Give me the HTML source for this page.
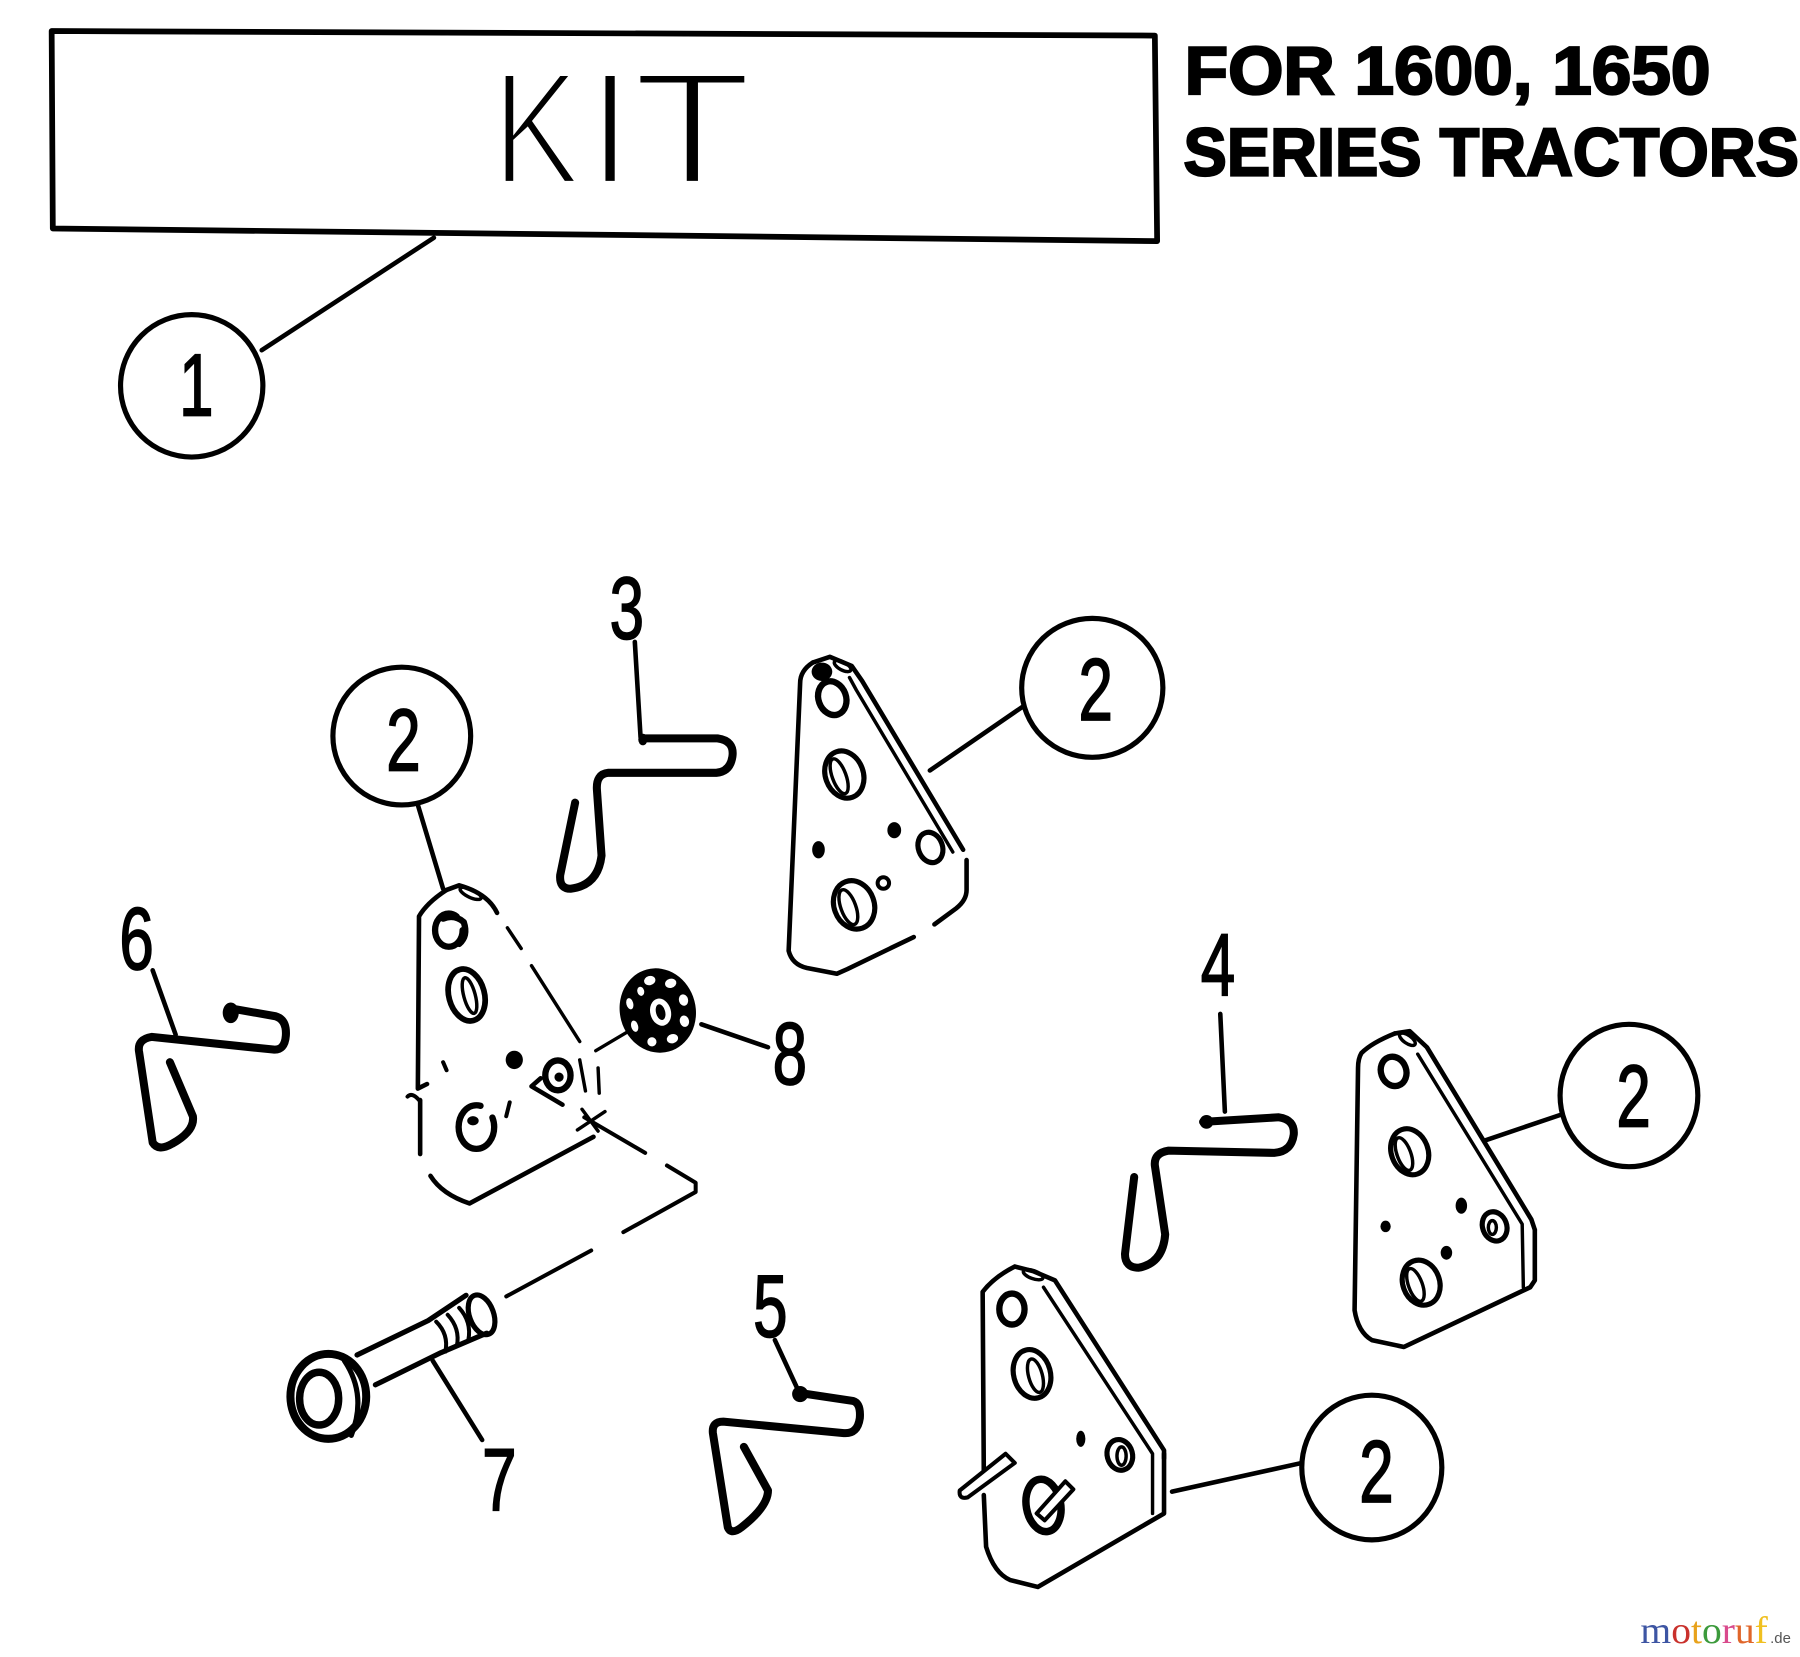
<!DOCTYPE html>
<html><head><meta charset="utf-8"><style>
html,body{margin:0;padding:0;background:#fff;}
svg{display:block;}
</style></head><body>
<svg width="1800" height="1657" viewBox="0 0 1568 1443" preserveAspectRatio="none" xmlns="http://www.w3.org/2000/svg">
<rect width="1568" height="1443" fill="#fff"/>

<g fill="none" stroke="#000" stroke-linecap="round" stroke-linejoin="round">
<path d="M45 27 L1006 31 L1008 210 L46 199 Z" stroke-width="5"/>

<ellipse cx="167" cy="336" rx="62" ry="62" stroke-width="4.5"/>
<path d="M228 305 L378 207" stroke-width="4"/>

<g stroke-width="4.5">
<ellipse cx="350" cy="641" rx="60" ry="60"/>
<ellipse cx="951.5" cy="599" rx="61.5" ry="60.5"/>
<ellipse cx="1419" cy="954" rx="60" ry="62"/>
<ellipse cx="1195" cy="1278" rx="61" ry="63"/>
</g>
<g stroke-width="4">
<path d="M364 701 L386 774"/>
<path d="M810 671 L890 616"/>
<path d="M1294 993 L1359 971"/>
<path d="M1021 1299 L1134 1274"/>
<path d="M553 559 L558 642"/>
<path d="M1063 883 L1067 968"/>
<path d="M675 1167 L694 1208"/>
<path d="M133 845 L153 901"/>
<path d="M377 1185 L420 1254"/>
<path d="M611 892 L669 912"/>
</g>

<g stroke-width="7">
<path d="M560 643 L625 643 Q640 645 638 659 Q636 672 624 673 L530 673 Q519 674 520 688 L524 745 Q521 771 497 774 Q487 774 488 762 L501 699"/>
<path d="M1048 977 L1114 973 Q1128 975 1127 988 Q1125 1003 1110 1004 L1018 1002 Q1005 1004 1006 1015 L1015 1075 Q1013 1100 992 1104 Q980 1104 980 1092 L988 1025"/>
<path d="M696 1213 L743 1220 Q750 1222 749 1235 Q747 1249 735 1248 L630 1238 Q620 1238 621 1248 L634 1330 Q637 1337 646 1330 Q669 1312 669 1298 L648 1260"/>
<path d="M200 878 L240 885 Q250 888 249 902 Q248 915 238 914 L132 903 Q120 905 121 915 L133 995 Q138 1003 150 996 Q170 985 168 972 L148 925"/>
</g>
</g>
<g fill="#000">
<ellipse cx="697" cy="1214" rx="7" ry="7"/>
<ellipse cx="201" cy="882" rx="7" ry="9"/>
<ellipse cx="1051" cy="977" rx="6" ry="6"/>
<ellipse cx="560" cy="644" rx="4" ry="5"/>
</g>

<!-- top-right plate -->
<g fill="none" stroke="#000" stroke-linecap="round" stroke-linejoin="round" stroke-width="4">
<path d="M708 577 Q697 584 697 595 L687 828 Q690 840 703 843 L729 848 L738 844 L796 816"/>
<path d="M814 805 L833 791 Q842 784 842 775 L842 749"/>
<path d="M708 577 L723 572 L742 580 L751 593 L839 740"/>
<path d="M740 590 L746 601 L830 742" stroke-width="3"/>
<ellipse cx="734" cy="580" rx="8" ry="3.5" transform="rotate(28 734 580)" stroke-width="3"/>
<ellipse cx="725" cy="608" rx="12" ry="15" stroke-width="5.5" transform="rotate(-20 725 608)"/>
<ellipse cx="735.5" cy="674.5" rx="16.5" ry="21" stroke-width="4.5" transform="rotate(-20 735.5 674.5)"/>
<ellipse cx="731" cy="676" rx="6" ry="16" stroke-width="3" transform="rotate(-20 731 676)"/>
<ellipse cx="810.5" cy="738" rx="10.5" ry="13.5" stroke-width="4.5" transform="rotate(-20 810.5 738)"/>
<ellipse cx="769.5" cy="769" rx="5" ry="5" stroke-width="3.5"/>
<ellipse cx="744" cy="788" rx="17.5" ry="21.5" stroke-width="4.5" transform="rotate(-20 744 788)"/>
<ellipse cx="739" cy="790" rx="6.5" ry="16" stroke-width="3" transform="rotate(-20 739 790)"/>
</g>
<g fill="#000">
<ellipse cx="716" cy="585" rx="9" ry="8"/>
<ellipse cx="779" cy="723" rx="6" ry="7"/>
<ellipse cx="713" cy="740" rx="5.5" ry="7.5"/>
</g>

<!-- right plate -->
<g fill="none" stroke="#000" stroke-linecap="round" stroke-linejoin="round" stroke-width="4">
<path d="M1215 900 Q1195 908 1186 917 Q1183 922 1183 930 L1180 1141 Q1183 1160 1195 1167 L1223 1173 L1333 1121 L1337 1115 L1337 1071"/>
<path d="M1215 900 L1228 898 L1243 912 L1334 1062 L1337 1071"/>
<path d="M1235 918 L1326 1066 L1327 1121" stroke-width="3"/>
<ellipse cx="1226" cy="905" rx="8" ry="3.5" transform="rotate(35 1226 905)" stroke-width="3"/>
<ellipse cx="1214" cy="933" rx="11" ry="13" stroke-width="5.5" transform="rotate(-20 1214 933)"/>
<ellipse cx="1228" cy="1003" rx="16" ry="20.5" stroke-width="4.5" transform="rotate(-20 1228 1003)"/>
<ellipse cx="1223" cy="1005" rx="6" ry="15" stroke-width="3" transform="rotate(-20 1223 1005)"/>
<ellipse cx="1302" cy="1068" rx="10.5" ry="13" stroke-width="4.5" transform="rotate(-20 1302 1068)"/>
<ellipse cx="1300" cy="1069" rx="3.5" ry="6" stroke-width="3"/>
<ellipse cx="1238" cy="1117" rx="16" ry="20" stroke-width="4.5" transform="rotate(-20 1238 1117)"/>
<ellipse cx="1233" cy="1119" rx="6" ry="15" stroke-width="3" transform="rotate(-20 1233 1119)"/>
</g>
<g fill="#000">
<ellipse cx="1273" cy="1050" rx="5" ry="7"/>
<ellipse cx="1207" cy="1068" rx="4.5" ry="5"/>
<ellipse cx="1260" cy="1091" rx="5" ry="6"/>
</g>

<!-- bottom plate -->
<g fill="none" stroke="#000" stroke-linecap="round" stroke-linejoin="round" stroke-width="4">
<path d="M884 1103 Q866 1112 856 1125 L857 1283"/>
<path d="M857 1302 L859 1347 Q866 1370 880 1376 L904 1382 L1014 1318 L1014 1266"/>
<path d="M884 1103 L900 1107 L919 1115 L1014 1263 L1014 1270"/>
<path d="M909 1121 L1004 1266 L1004 1318" stroke-width="3"/>
<ellipse cx="900" cy="1110" rx="9" ry="3.5" transform="rotate(20 900 1110)" stroke-width="3"/>
<ellipse cx="881.5" cy="1140" rx="11" ry="13.5" stroke-width="5.5"/>
<ellipse cx="899" cy="1196.5" rx="16" ry="21.5" stroke-width="4.5" transform="rotate(-15 899 1196.5)"/>
<ellipse cx="902" cy="1198" rx="6" ry="15" stroke-width="3" transform="rotate(-15 902 1198)"/>
<ellipse cx="975.5" cy="1267" rx="11" ry="13.5" stroke-width="4.5" transform="rotate(-15 975.5 1267)"/>
<ellipse cx="977" cy="1268" rx="4" ry="8" stroke-width="3"/>
<ellipse cx="909" cy="1311" rx="15" ry="23" stroke-width="6.5" transform="rotate(-10 909 1311)"/>
</g>
<ellipse cx="941.5" cy="1253" rx="4" ry="7" fill="#000"/>
<g stroke="#000" stroke-width="3.5" fill="#fff" stroke-linejoin="round">
<path d="M836 1298 L876 1266 L884 1274 L843 1304 Q835 1306 836 1298 Z"/>
<path d="M903 1318 L928 1290 L935 1297 L910 1324 Z"/>
</g>

<!-- left plate -->
<g fill="none" stroke="#000" stroke-linecap="round" stroke-linejoin="round" stroke-width="4">
<path d="M389 775 Q372 786 365 798 L364 948 L372 944"/>
<path d="M366 958 L366 1005"/>
<path d="M375 1024 Q385 1040 409 1048 L517 990"/>
<path d="M389 775 L400 771 Q425 778 433 795"/>
<ellipse cx="410" cy="778" rx="10" ry="3.5" transform="rotate(25 410 778)" stroke-width="3"/>
<path d="M442 808 L454 826 M463 841 L505 907" stroke-width="3"/>
<path d="M505 923 L510 950 M521 930 L522 952" stroke-width="3"/>
<path d="M507 966 L521 985 M503 984 L527 968" stroke-width="3"/>
<path d="M509 973 L562 1004 M581 1015 L606 1030 L606 1038 L543 1073 M515 1089 L441 1129" stroke-width="3.5"/>
<path d="M519 915 L546 899" stroke-width="3"/>
<path d="M400 822 Q408 815 404 803 Q396 796 386 800" stroke-width="5.5"/>
<ellipse cx="391" cy="810" rx="12" ry="14.5" stroke-width="5.5" stroke-dasharray="70 20"/>
<ellipse cx="406.5" cy="866.5" rx="15.5" ry="23" stroke-width="5" transform="rotate(-15 406.5 866.5)"/>
<ellipse cx="409" cy="867" rx="5" ry="16" stroke-width="3" transform="rotate(-15 409 867)"/>
<ellipse cx="486" cy="936.5" rx="11" ry="13" stroke-width="5.5"/>
<path d="M463 946 L490 962 M463 946 L471 939" stroke-width="4"/>
<ellipse cx="415" cy="981.5" rx="15.5" ry="19" stroke-width="5.5" stroke-dasharray="85 15"/>
<path d="M355 955 Q359 951 365 958 M386 925 L389 932 M444 960 L441 972" stroke-width="3.5"/>
</g>
<g fill="#000">
<ellipse cx="448" cy="923" rx="7.5" ry="8"/>
<ellipse cx="487" cy="938" rx="4" ry="4"/>
<ellipse cx="412" cy="976" rx="5" ry="4"/>
</g>

<!-- nut -->
<g transform="translate(573 880) rotate(-15)">
<ellipse rx="33" ry="37" fill="#000"/>
<g fill="#fff">
<ellipse cx="0" cy="-27" rx="5" ry="4"/>
<ellipse cx="17" cy="-20" rx="5" ry="4"/>
<ellipse cx="24" cy="-3" rx="4" ry="5"/>
<ellipse cx="20" cy="15" rx="4" ry="5"/>
<ellipse cx="6" cy="27" rx="5" ry="4"/>
<ellipse cx="-12" cy="25" rx="4" ry="4"/>
<ellipse cx="-23" cy="8" rx="3" ry="5"/>
<ellipse cx="-22" cy="-12" rx="3" ry="5"/>
<ellipse cx="-10" cy="-20" rx="3" ry="4"/>
<ellipse cx="2" cy="2" rx="9" ry="12"/>
</g>
<ellipse cx="2" cy="2" rx="4" ry="7" fill="#000"/>
</g>

<!-- bolt -->
<g fill="none" stroke="#000" stroke-linecap="round" stroke-linejoin="round">
<ellipse cx="286" cy="1216" rx="33" ry="37" stroke-width="7"/>
<ellipse cx="278" cy="1218" rx="17" ry="23" stroke-width="6.5"/>
<path d="M300 1185 Q320 1215 306 1250" stroke-width="4.5"/>
<path d="M311 1180 L373 1150 L406 1128" stroke-width="4.5"/>
<path d="M327 1206 L384 1178 L424 1161" stroke-width="4.5"/>
<ellipse cx="419.5" cy="1145" rx="10.5" ry="18" stroke-width="4.5" transform="rotate(-20 419.5 1145)"/>
<path d="M380 1151 Q391 1162 388 1177 M390 1145 Q401 1157 398 1172 M400 1139 Q411 1151 408 1167" stroke-width="3.5"/>
</g>

<!-- labels -->
<g font-family="'Liberation Sans', Arial, sans-serif" font-size="77" text-anchor="middle" fill="#000" stroke="#000" stroke-width="1.5">
<text transform="translate(171 362) scale(0.7 1)">1</text>
<text transform="translate(351.5 671) scale(0.7 1)">2</text>
<text transform="translate(954.5 627) scale(0.7 1)">2</text>
<text transform="translate(1423 981) scale(0.7 1)">2</text>
<text transform="translate(1199 1308) scale(0.7 1)">2</text>
<text transform="translate(546 556) scale(0.7 1)">3</text>
<text transform="translate(1061 867) scale(0.7 1)">4</text>
<text transform="translate(671 1164) scale(0.7 1)">5</text>
<text transform="translate(119 844) scale(0.7 1)">6</text>
<text transform="translate(435 1315) scale(0.7 1)">7</text>
<text transform="translate(688 944) scale(0.7 1)">8</text>
</g>

<!-- KIT -->
<g font-family="'Liberation Sans', Arial, sans-serif" font-size="140" fill="#000" stroke="#fff" stroke-width="5">
<text transform="translate(429 160) scale(0.82 1)">K</text>
<text transform="translate(512 160)">I</text>
<text transform="translate(551 160) scale(1.22 1)">T</text>
</g>

<!-- heading -->
<g font-family="'Liberation Sans', Arial, sans-serif" font-size="59" font-weight="bold" fill="#000" stroke="#000" stroke-width="2">
<text x="1032" y="82" textLength="458" lengthAdjust="spacingAndGlyphs">FOR 1600, 1650</text>
<text x="1031" y="153" textLength="536" lengthAdjust="spacingAndGlyphs">SERIES TRACTORS</text>
</g>

<!-- watermark -->
<text x="1429" y="1431" font-family="'Liberation Serif', serif" font-size="33" textLength="111" lengthAdjust="spacingAndGlyphs"><tspan fill="#3d55a3">m</tspan><tspan fill="#c9312c">o</tspan><tspan fill="#e8a21c">t</tspan><tspan fill="#3c9a3c">o</tspan><tspan fill="#d94a8c">r</tspan><tspan fill="#e0662a">u</tspan><tspan fill="#f0c020">f</tspan></text>
<text x="1542" y="1431" font-family="'Liberation Sans', sans-serif" font-size="13" fill="#555">.de</text>
</svg>
</body></html>
